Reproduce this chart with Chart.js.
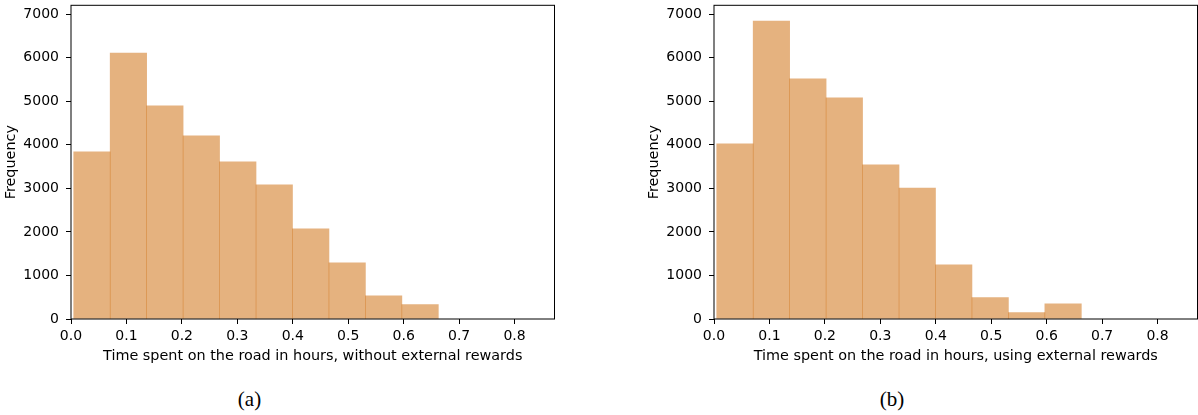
<!DOCTYPE html>
<html>
<head>
<meta charset="utf-8">
<script src="https://cdn.jsdelivr.net/npm/chart.js@4"></script>
<style>
  html, body { margin: 0; padding: 0; background: #fff; }
  #wrap { position: relative; width: 1198px; height: 415px; overflow: hidden; }
  canvas { position: absolute; top: 0; }
  #c1 { left: 0; }
  #c2 { left: 643px; }
  .cap { position: absolute; top: 388px; width: 60px; margin-left: -30px; text-align: center;
         font-family: "Liberation Serif", "DejaVu Serif", serif; font-size: 21px; line-height: 22px; color: #000; }
</style>
</head>
<body>
<div id="wrap">
  <canvas id="c1" width="600" height="380"></canvas>
  <canvas id="c2" width="555" height="380"></canvas>
  <div class="cap" style="left:249.5px">(a)</div>
  <div class="cap" style="left:892px">(b)</div>
</div>
<script>
// Histogram bin edges (hours), shared by both panels
const binEdges = [0.0049, 0.0707, 0.1364, 0.2022, 0.2679, 0.3337, 0.3995, 0.4652, 0.5310, 0.5967, 0.6625];

// Trip counts per bin
const countsWithout = [3840, 6110, 4895, 4205, 3610, 3080, 2070, 1290, 535, 330];
const countsWith    = [4025, 6845, 5515, 5080, 3540, 3005, 1245, 490, 145, 350];

// Axis ticks
const xTicks = [0.0, 0.1, 0.2, 0.3, 0.4, 0.5, 0.6, 0.7, 0.8];
const yTicks = [0, 1000, 2000, 3000, 4000, 5000, 6000, 7000];

const X_MAX = 0.872;
const Y_MAX = 7205;

const FILL = 'rgba(204, 102, 0, 0.5)';
const TICK_FONT = { family: '"DejaVu Sans", sans-serif', size: 14 };
const TITLE_FONT = { family: '"DejaVu Sans", sans-serif', size: 14.4 };

// Full box around the plotting area, drawn above the bars
const frame = {
  id: 'frame',
  afterDatasetsDraw(chart) {
    const { ctx, chartArea: a } = chart;
    ctx.save();
    ctx.strokeStyle = '#000';
    ctx.lineWidth = 1;
    ctx.strokeRect(a.left, a.top, a.right - a.left, a.bottom - a.top);
    ctx.restore();
  }
};

function binCenters(edges) {
  const c = [];
  for (let i = 0; i < edges.length - 1; i++) c.push((edges[i] + edges[i + 1]) / 2);
  return c;
}

function makeHist(canvasId, counts, xTitle, padRight) {
  const centers = binCenters(binEdges);
  const points = counts.map((v, i) => ({ x: centers[i], y: v }));
  return new Chart(document.getElementById(canvasId), {
    type: 'bar',
    data: {
      datasets: [{
        data: points,
        backgroundColor: FILL,
        borderWidth: 0,
        barPercentage: 1,
        categoryPercentage: 1
      }]
    },
    options: {
      responsive: false,
      animation: false,
      devicePixelRatio: 1,
      layout: { padding: { top: 5.3, right: padRight, bottom: 0, left: 0 } },
      plugins: { legend: { display: false }, tooltip: { enabled: false } },
      scales: {
        x: {
          type: 'linear',
          offset: false,
          min: 0,
          max: X_MAX,
          afterBuildTicks(scale) { scale.ticks = xTicks.map(v => ({ value: v })); },
          afterFit(scale) { scale.height = 61; scale.paddingLeft = 0; scale.paddingRight = 0; },
          border: { display: false },
          grid: { display: true, offset: false, drawOnChartArea: false, drawTicks: true,
                  tickLength: 5, tickColor: '#000', tickWidth: 1 },
          ticks: { color: '#000', font: TICK_FONT, padding: 4, maxRotation: 0,
                   callback: v => Number(v).toFixed(1) },
          title: { display: true, text: xTitle, color: '#000', font: TITLE_FONT,
                   padding: { top: 0, bottom: 15 } }
        },
        y: {
          min: 0,
          max: Y_MAX,
          afterBuildTicks(scale) { scale.ticks = yTicks.map(v => ({ value: v })); },
          afterFit(scale) { scale.width = 71; scale.paddingTop = 0; scale.paddingBottom = 0; },
          border: { display: false },
          grid: { display: true, drawOnChartArea: false, drawTicks: true,
                  tickLength: 5, tickColor: '#000', tickWidth: 1 },
          ticks: { color: '#000', font: TICK_FONT, padding: 7,
                   callback: v => String(v) },
          title: { display: true, text: 'Frequency', color: '#000', font: TITLE_FONT,
                   padding: { top: 3, bottom: 0 } }
        }
      }
    },
    plugins: [frame]
  });
}

makeHist('c1', countsWithout, 'Time spent on the road in hours, without external rewards', 45.5);
makeHist('c2', countsWith, 'Time spent on the road in hours, using external rewards', 0.5);
</script>
</body>
</html>
